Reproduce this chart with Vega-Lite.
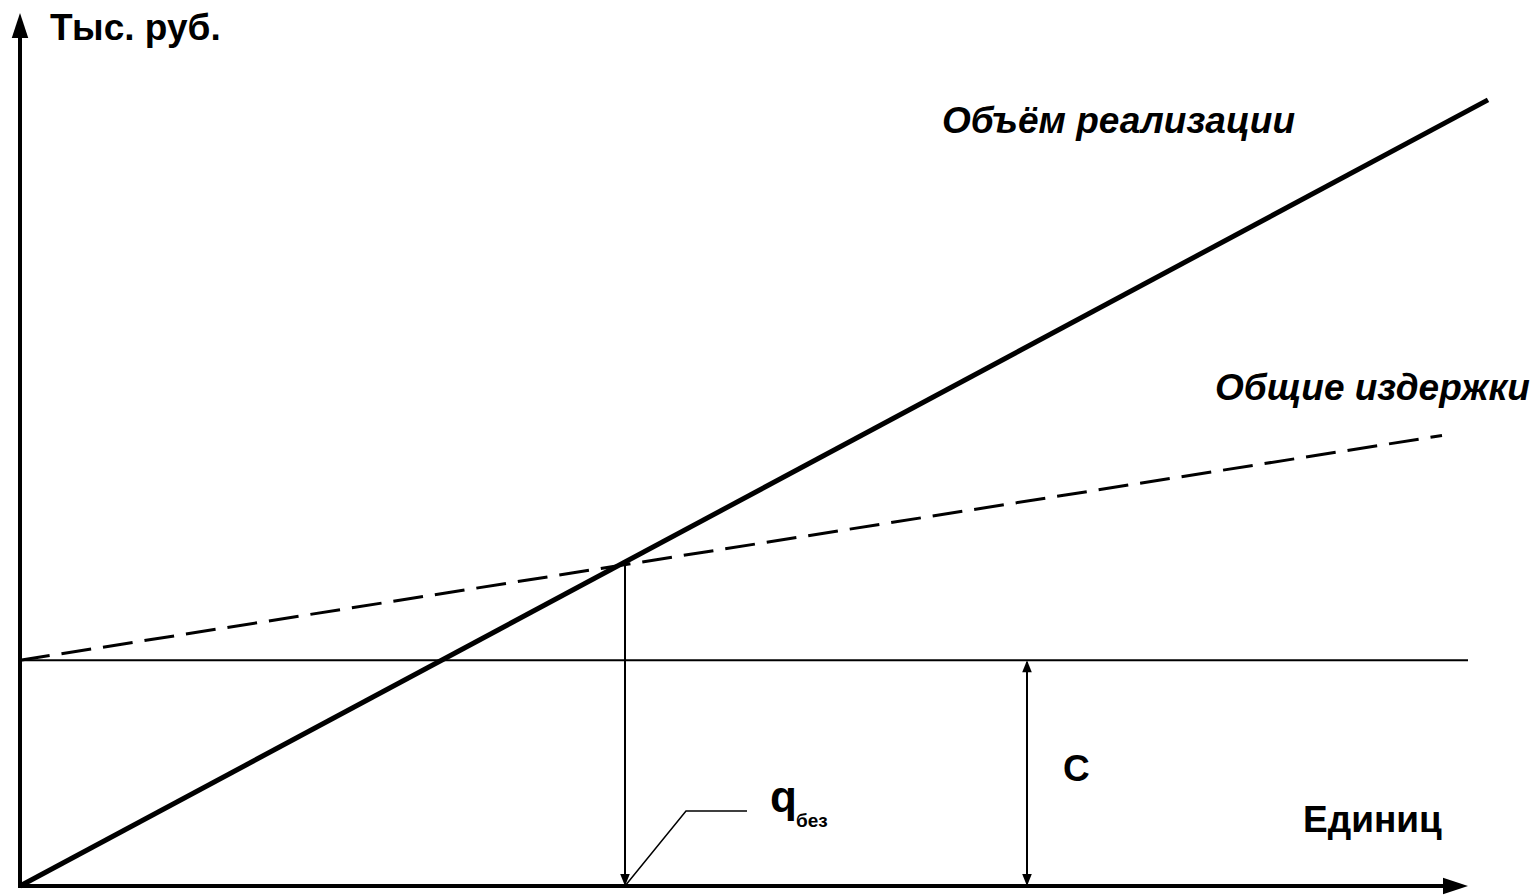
{
  "$schema": "https://vega.github.io/schema/vega-lite/v6.json",
  "width": 1538,
  "height": 896,
  "autosize": {"type": "fit", "contains": "padding"},
  "padding": 0,
  "background": "white",
  "config": {"view": {"stroke": null}},
  "datasets": {
    "axes": [
      {"id": "yaxis", "x": 0, "y": 0},
      {"id": "yaxis", "x": 0, "y": 86.5},
      {"id": "xaxis", "x": 0, "y": 0},
      {"id": "xaxis", "x": 144.0, "y": 0}
    ],
    "revenue": [
      {"series": "Объём реализации", "x": 0, "y": 0},
      {"series": "Объём реализации", "x": 146.8, "y": 78.7}
    ],
    "costs": [
      {"series": "Общие издержки", "x": 0, "y": 22.6},
      {"series": "Общие издержки", "x": 142.2, "y": 45.1}
    ],
    "fixed": [
      {"series": "Постоянные издержки", "x": 0, "y": 22.6},
      {"series": "Постоянные издержки", "x": 144.8, "y": 22.6}
    ],
    "guides": [
      {"id": "drop", "x": 60.5, "y": 32.2},
      {"id": "drop", "x": 60.5, "y": 0.5},
      {"id": "C", "x": 100.7, "y": 22.4},
      {"id": "C", "x": 100.7, "y": 0.2}
    ],
    "leader": [
      {"x": 60.5, "y": 0},
      {"x": 66.6, "y": 7.5},
      {"x": 72.7, "y": 7.5}
    ],
    "bigArrows": [
      {"dir": "up", "x": 0, "y": 87.4},
      {"dir": "right", "x": 144.8, "y": 0}
    ],
    "smallArrows": [
      {"dir": "down", "x": 60.5, "y": 0},
      {"dir": "up", "x": 100.7, "y": 22.6},
      {"dir": "down", "x": 100.7, "y": 0}
    ],
    "labels": [
      {"text": "Тыс. руб.", "x": 3.0, "y": 84.7},
      {"text": "Единиц", "x": 128.3, "y": 5.4},
      {"text": "С", "x": 104.3, "y": 10.5}
    ],
    "italicLabels": [
      {"text": "Объём реализации", "x": 92.2, "y": 75.4},
      {"text": "Общие издержки", "x": 119.5, "y": 48.7}
    ],
    "q": [
      {"text": "q", "x": 75.0, "y": 7.4}
    ],
    "subs": [
      {"text": "без", "x": 77.6, "y": 5.9}
    ]
  },
  "encoding": {
    "x": {"field": "x", "type": "quantitative", "axis": null, "scale": {"domain": [-2, 151.8], "nice": false, "zero": false}},
    "y": {"field": "y", "type": "quantitative", "axis": null, "scale": {"domain": [-0.9, 88.7], "nice": false, "zero": false}}
  },
  "layer": [
    {
      "data": {"name": "fixed"},
      "mark": {"type": "line", "color": "black", "strokeWidth": 2, "strokeCap": "butt"},
      "encoding": {"detail": {"field": "series"}}
    },
    {
      "data": {"name": "costs"},
      "mark": {"type": "line", "color": "black", "strokeWidth": 3, "strokeDash": [30, 12], "strokeCap": "butt"},
      "encoding": {"detail": {"field": "series"}}
    },
    {
      "data": {"name": "guides"},
      "mark": {"type": "line", "color": "black", "strokeWidth": 2, "strokeCap": "butt"},
      "encoding": {"detail": {"field": "id"}, "order": {"field": "y"}}
    },
    {
      "data": {"name": "leader"},
      "mark": {"type": "line", "color": "black", "strokeWidth": 1.5},
      "encoding": {}
    },
    {
      "data": {"name": "revenue"},
      "mark": {"type": "line", "color": "black", "strokeWidth": 5, "strokeCap": "butt"},
      "encoding": {"detail": {"field": "series"}}
    },
    {
      "data": {"name": "axes"},
      "mark": {"type": "line", "color": "black", "strokeWidth": 4, "strokeCap": "square"},
      "encoding": {"detail": {"field": "id"}, "order": {"field": "y"}}
    },
    {
      "data": {"name": "bigArrows"},
      "transform": [{"filter": "datum.dir === 'up'"}],
      "mark": {"type": "point", "shape": "M0,0L0.33,1L-0.33,1Z", "size": 2500, "filled": true, "color": "black", "opacity": 1, "strokeWidth": 0, "angle": 0}
    },
    {
      "data": {"name": "bigArrows"},
      "transform": [{"filter": "datum.dir === 'right'"}],
      "mark": {"type": "point", "shape": "M0,0L0.33,1L-0.33,1Z", "size": 2500, "filled": true, "color": "black", "opacity": 1, "strokeWidth": 0, "angle": 90}
    },
    {
      "data": {"name": "smallArrows"},
      "transform": [{"filter": "datum.dir === 'up'"}],
      "mark": {"type": "point", "shape": "M0,0L0.4,1L-0.4,1Z", "size": 576, "filled": true, "color": "black", "opacity": 1, "strokeWidth": 0, "angle": 0}
    },
    {
      "data": {"name": "smallArrows"},
      "transform": [{"filter": "datum.dir === 'down'"}],
      "mark": {"type": "point", "shape": "M0,0L0.4,1L-0.4,1Z", "size": 576, "filled": true, "color": "black", "opacity": 1, "strokeWidth": 0, "angle": 180}
    },
    {
      "data": {"name": "labels"},
      "mark": {"type": "text", "align": "left", "baseline": "alphabetic", "font": "Liberation Sans", "fontSize": 37, "fontWeight": "bold", "color": "black"},
      "encoding": {"text": {"field": "text"}}
    },
    {
      "data": {"name": "italicLabels"},
      "mark": {"type": "text", "align": "left", "baseline": "alphabetic", "font": "Liberation Sans", "fontSize": 37, "fontWeight": "bold", "fontStyle": "italic", "color": "black"},
      "encoding": {"text": {"field": "text"}}
    },
    {
      "data": {"name": "q"},
      "mark": {"type": "text", "align": "left", "baseline": "alphabetic", "font": "Liberation Sans", "fontSize": 44, "fontWeight": "bold", "color": "black"},
      "encoding": {"text": {"field": "text"}}
    },
    {
      "data": {"name": "subs"},
      "mark": {"type": "text", "align": "left", "baseline": "alphabetic", "font": "Liberation Sans", "fontSize": 19, "fontWeight": "bold", "color": "black"},
      "encoding": {"text": {"field": "text"}}
    }
  ]
}
